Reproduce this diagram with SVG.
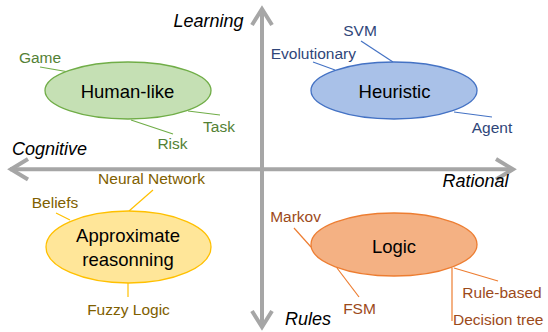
<svg xmlns="http://www.w3.org/2000/svg" width="548" height="332" viewBox="0 0 548 332">
<style>
.axis{stroke:#a6a6a6;stroke-width:4;fill:none}
.ax{font-family:"Liberation Sans",Arial,sans-serif;font-size:18px;font-style:italic;fill:#000}
.main{font-family:"Liberation Sans",Arial,sans-serif;font-size:18.5px;fill:#000;text-anchor:middle}
.lbl{font-family:"Liberation Sans",Arial,sans-serif;font-size:15.5px}
.g{fill:#538135}.gl{stroke:#70ad47;stroke-width:1.2}
.b{fill:#2f4679}.bl{stroke:#4472c4;stroke-width:1.2}
.y{fill:#7f6000}.yl{stroke:#ffc000;stroke-width:1.2}
.o{fill:#9c4a1a}.ol{stroke:#ed7d31;stroke-width:1.2}
</style>
<rect width="548" height="332" fill="#fff"/>
<g id="axes">
<line class="axis" x1="262" y1="9" x2="262" y2="327"/>
<line class="axis" x1="10" y1="169.3" x2="513" y2="169.3"/>
<polyline class="axis" points="252,25 262,9 272,25"/>
<polyline class="axis" points="252,311 262,327 272,311"/>
<polyline class="axis" points="28,159 11,169.3 28,179.5"/>
<polyline class="axis" points="496,159 513,169.3 496,179.5"/>
<text class="ax" x="208.5" y="27" text-anchor="middle">Learning</text>
<text class="ax" x="12" y="155">Cognitive</text>
<text class="ax" x="475.5" y="187" text-anchor="middle">Rational</text>
<text class="ax" x="308" y="325" text-anchor="middle">Rules</text>
</g>
<g id="connectors">
<line class="gl" x1="40" y1="67" x2="69" y2="72"/>
<line class="gl" x1="188" y1="111" x2="220" y2="115"/>
<line class="gl" x1="131" y1="120" x2="173" y2="134"/>
<line class="bl" x1="361" y1="41" x2="393" y2="62"/>
<line class="bl" x1="313" y1="62" x2="335" y2="70"/>
<line class="bl" x1="454" y1="112" x2="492" y2="117"/>
<line class="yl" x1="153" y1="190" x2="129" y2="211"/>
<line class="yl" x1="56" y1="213" x2="70" y2="220"/>
<line class="yl" x1="128" y1="283" x2="128" y2="297"/>
<line class="ol" x1="294" y1="228" x2="311" y2="247"/>
<line class="ol" x1="337" y1="268" x2="359" y2="297"/>
<line class="ol" x1="454" y1="268" x2="498" y2="281"/>
<line class="ol" x1="452" y1="268" x2="452" y2="321"/>
</g>
<g id="human-like">
<ellipse cx="128" cy="90.5" rx="83" ry="28.5" fill="#c5e0b4" stroke="#70ad47" stroke-width="1.3"/>
<text class="main" x="127.5" y="98">Human-like</text>
<text class="lbl g" x="40" y="63" text-anchor="middle">Game</text>
<text class="lbl g" x="219" y="132" text-anchor="middle">Task</text>
<text class="lbl g" x="172.5" y="149" text-anchor="middle">Risk</text>
</g>
<g id="heuristic">
<ellipse cx="394" cy="90.5" rx="83" ry="28.5" fill="#a9c1e8" stroke="#4472c4" stroke-width="1.3"/>
<text class="main" x="394.5" y="98">Heuristic</text>
<text class="lbl b" x="360" y="36" text-anchor="middle">SVM</text>
<text class="lbl b" x="356" y="59" text-anchor="end">Evolutionary</text>
<text class="lbl b" x="492" y="133" text-anchor="middle">Agent</text>
</g>
<g id="approximate">
<ellipse cx="128.5" cy="247" rx="82.5" ry="36" fill="#ffe699" stroke="#ffc000" stroke-width="1.3"/>
<text class="main" x="128" y="242">Approximate</text>
<text class="main" x="128" y="266">reasonning</text>
<text class="lbl y" x="151.5" y="184" text-anchor="middle">Neural Network</text>
<text class="lbl y" x="55" y="208" text-anchor="middle">Beliefs</text>
<text class="lbl y" x="128.5" y="315" text-anchor="middle">Fuzzy Logic</text>
</g>
<g id="logic">
<ellipse cx="394" cy="244.5" rx="83" ry="31.5" fill="#f4b183" stroke="#ed7d31" stroke-width="1.3"/>
<text class="main" x="394" y="253">Logic</text>
<text class="lbl o" x="321" y="222" text-anchor="end">Markov</text>
<text class="lbl o" x="359.5" y="314" text-anchor="middle">FSM</text>
<text class="lbl o" x="502" y="298" text-anchor="middle">Rule-based</text>
<text class="lbl o" x="453" y="325">Decision tree</text>
</g>
</svg>
